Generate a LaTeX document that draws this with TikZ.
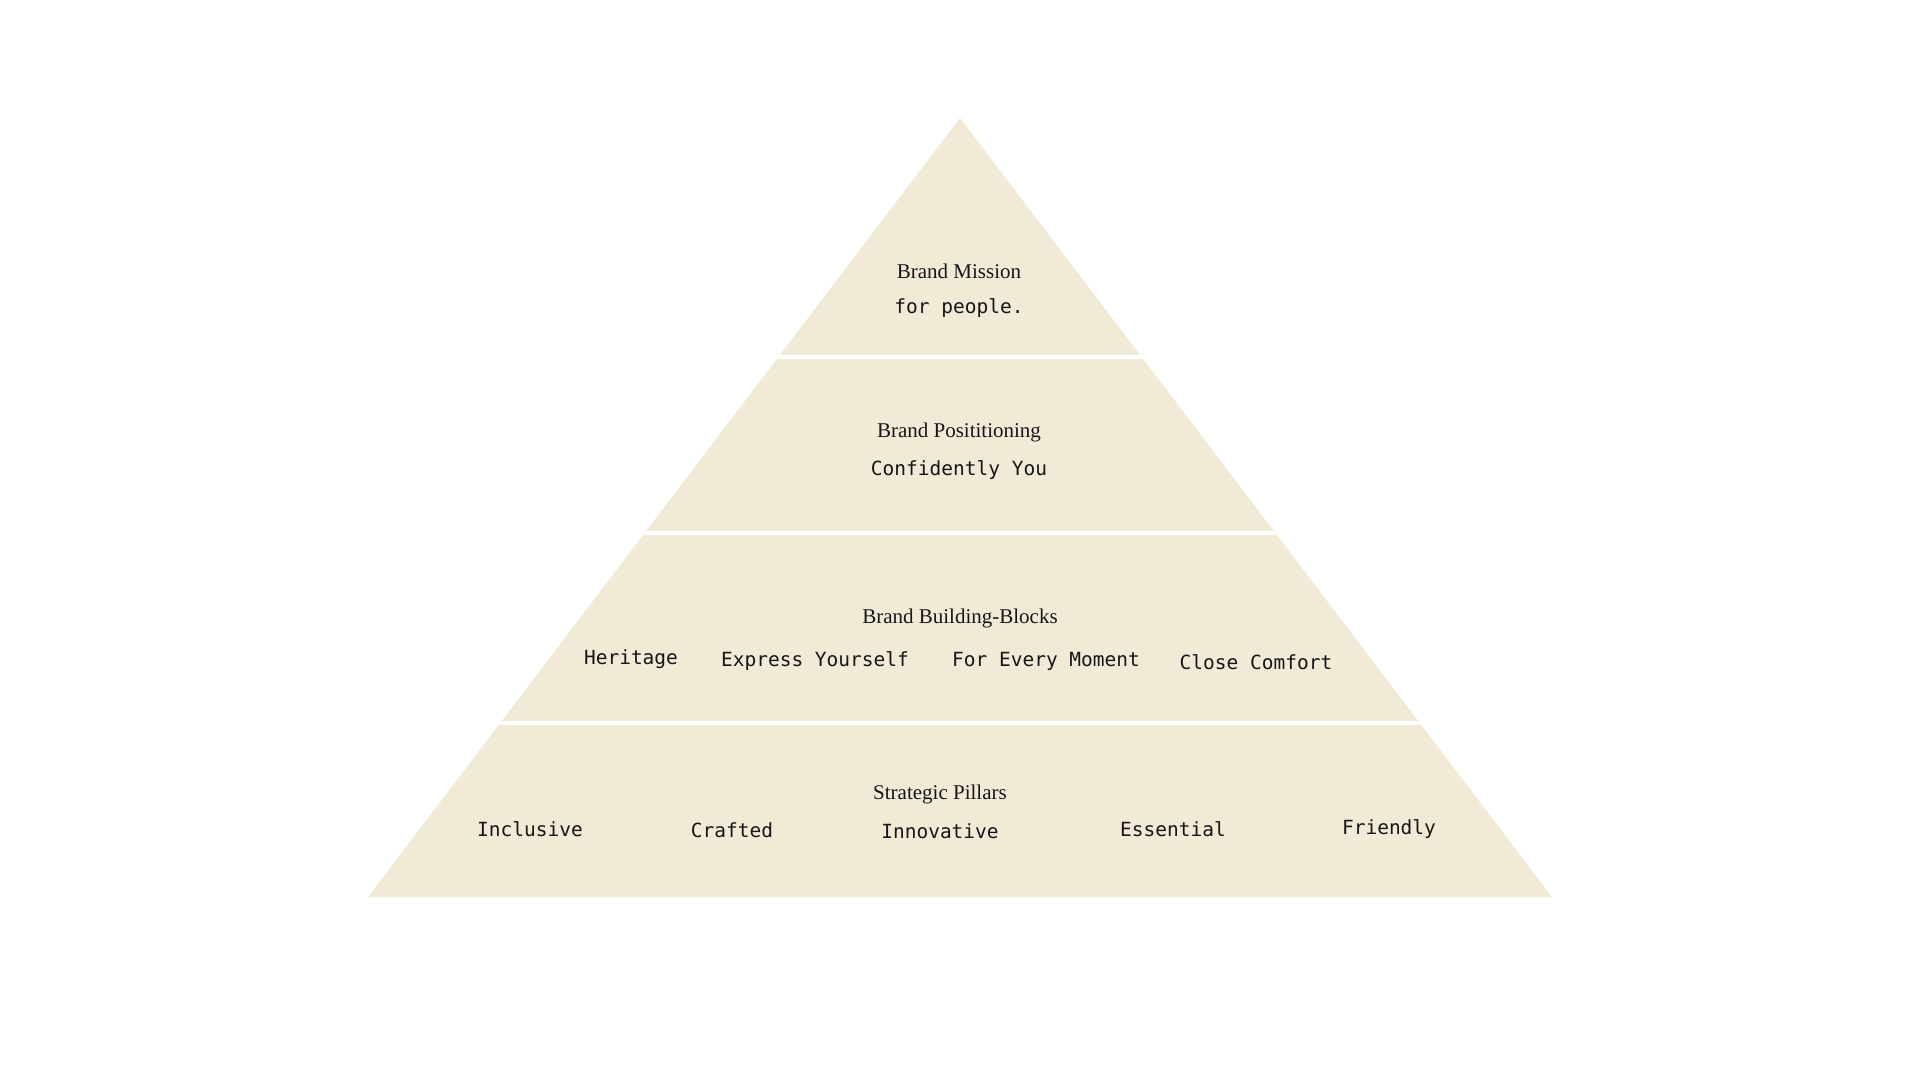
\documentclass[tikz,border=0pt]{standalone}
\usepackage{fontspec}
\setmainfont{Liberation Serif}
\setmonofont{DejaVu Sans Mono}
\usepackage{tikz}

\definecolor{sand}{RGB}{241,234,215}
\definecolor{ink}{RGB}{22,22,22}

\begin{document}
\begin{tikzpicture}[x=1pt, y=-1pt,
  heading/.style={text=ink, inner sep=0pt, font=\fontsize{21}{25}\selectfont},
  value/.style={text=ink, inner sep=0pt, font=\ttfamily\fontsize{19.5}{23}\selectfont},
  gap/.style={draw=white, line width=4pt}]
\useasboundingbox (0,0) rectangle (1920,1081);

% pyramid and the three white cuts
\fill [sand] (960,118) -- (1552,897) -- (368,897) -- cycle;
\draw [gap] (700,357) -- (1220,357);
\draw [gap] (600,533) -- (1320,533);
\draw [gap] (450,722.5) -- (1470,722.5);

% top
\node (mission) [heading] at (959,271) {Brand Mission};
\node (missiontxt) [value] at (959,308.5) {for people.};

% second
\node (position) [heading] at (959,432) {Brand Posititioning};
\node (positiontxt) [value] at (959,470.5) {Confidently You};

% third
\node (blocks) [heading] at (960,618) {Brand Building-Blocks};
\node (heritage) [value] at (631,659) {Heritage};
\node (express) [value] at (815,661) {Express Yourself};
\node (moment) [value] at (1046,661) {For Every Moment};
\node (comfort) [value] at (1256,662) {Close Comfort};

% bottom
\node (pillars) [heading] at (940,794) {Strategic Pillars};
\node (inclusive) [value] at (530,829.5) {Inclusive};
\node (crafted) [value] at (732,830.5) {Crafted};
\node (innovative) [value] at (940,831.5) {Innovative};
\node (essential) [value] at (1173,829.5) {Essential};
\node (friendly) [value] at (1389,829.5) {Friendly};
\end{tikzpicture}
\end{document}
